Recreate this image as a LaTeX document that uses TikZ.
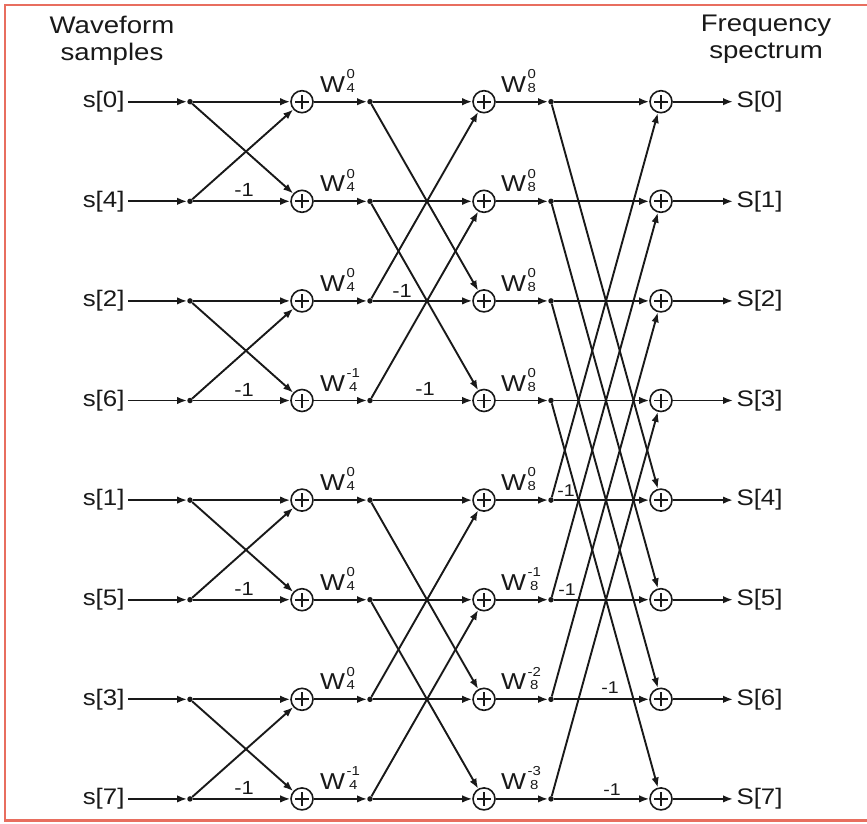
\documentclass[tikz,border=0pt]{standalone}
\usepackage{fontspec}
\setmainfont[FakeStretch=1.15]{Liberation Sans}
\usetikzlibrary{arrows.meta}
\definecolor{ink}{RGB}{25,25,25}
\definecolor{framered}{RGB}{232,110,95}
\newcommand{\twid}[2]{W\kern1.5pt{\fontsize{13}{14}\selectfont\renewcommand{\arraystretch}{0.98}\begin{tabular}[b]{@{}c@{}}#2\\#1\end{tabular}}}
\tikzset{
  wire/.style={draw=ink, line width=1.9pt},
  arr/.style={wire, -{Latex[length=10pt,width=7.5pt]}},
  adder/.style={circle, draw=ink, line width=1.6pt, minimum size=22pt, inner sep=0pt,
    path picture={\draw[ink,line width=1.8pt]
      ([xshift=-7pt]path picture bounding box.center) -- ([xshift=7pt]path picture bounding box.center)
      ([yshift=-7pt]path picture bounding box.center) -- ([yshift=7pt]path picture bounding box.center);}},
  dotn/.style={circle, fill=ink, minimum size=5.5pt, inner sep=0pt},
  iolab/.style={font=\fontsize{22.5}{24}\selectfont, inner sep=0pt, outer sep=3.5pt, text=ink},
  hdr/.style={font=\fontsize{24}{27}\selectfont, align=center, inner sep=0pt, text=ink},
  wlab/.style={font=\fontsize{23}{24}\selectfont, inner sep=0pt, anchor=base west, text=ink},
  neg/.style={font=\fontsize{19}{20}\selectfont, inner sep=0pt, anchor=base, text=ink},
  negs/.style={neg, font=\fontsize{17}{18}\selectfont},
}
\begin{document}
\begin{tikzpicture}[x=1pt,y=-1pt]
\useasboundingbox (0,0) rectangle (867,823);
\fill[white] (0,0) rectangle (867,823);
% frame
\draw[framered, line width=2.5pt] (868,5) -- (5,5) -- (5,820.5) -- (868,820.5);

% headers
\node[hdr, anchor=north] (hin) at (112,16) {Waveform\\samples};
\node[hdr, anchor=north] (hout) at (766,15) {Frequency\\spectrum};

% nodes
\foreach \i/\k/\wa/\wb in {0/0/0/0,1/4/0/0,2/2/0/0,3/6/-1/0,4/1/0/0,5/5/0/-1,6/3/0/-2,7/7/-1/-3} {
  \pgfmathsetmacro\ry{101.7+99.6*\i}
  \node[iolab, anchor=east] (in\i) at (128,\ry) {s[\k]};
  \node[dotn] (p\i) at (190,\ry) {};
  \node[adder] (a\i) at (302,\ry) {};
  \node[dotn] (q\i) at (370,\ry) {};
  \node[adder] (b\i) at (484,\ry) {};
  \node[dotn] (r\i) at (551,\ry) {};
  \node[adder] (c\i) at (661,\ry) {};
  \node[iolab, anchor=west] (out\i) at (733,\ry) {S[\i]};
  \node[wlab] (wa\i) at (320,\ry-9.5) {\twid{4}{\wa}};
  \node[wlab] (wb\i) at (501,\ry-9.5) {\twid{8}{\wb}};
  % horizontal wires
  \draw[arr] (in\i) -- (p\i);
  \draw[arr] (p\i) -- (a\i);
  \draw[arr] (a\i) -- (q\i);
  \draw[arr] (q\i) -- (b\i);
  \draw[arr] (b\i) -- (r\i);
  \draw[arr] (r\i) -- (c\i);
  \draw[arr] (c\i) -- (out\i);
}

% stage 1 butterflies
\foreach \i in {0,2,4,6} {
  \pgfmathtruncatemacro\j{\i+1}
  \draw[arr] (p\i) -- (a\j);
  \draw[arr] (p\j) -- (a\i);
}
% stage 2 butterflies
\foreach \i in {0,1,4,5} {
  \pgfmathtruncatemacro\j{\i+2}
  \draw[arr] (q\i) -- (b\j);
  \draw[arr] (q\j) -- (b\i);
}
% stage 3 butterflies
\foreach \i in {0,1,2,3} {
  \pgfmathtruncatemacro\j{\i+4}
  \draw[arr] (r\i) -- (c\j);
  \draw[arr] (r\j) -- (c\i);
}

% -1 labels
\foreach \i in {1,3,5,7} {
  \pgfmathsetmacro\ry{101.7+99.6*\i-4.5}
  \node[neg] (m1\i) at (244,\ry) {-1};
}
\node[neg] (m22) at (402,297) {-1};
\node[neg] (m23) at (425,395.5) {-1};
\node[negs] (m34) at (566,496.5) {-1};
\node[negs] (m35) at (567,595.5) {-1};
\node[negs] (m36) at (610,693.5) {-1};
\node[negs] (m37) at (612,795) {-1};
\end{tikzpicture}
\end{document}
